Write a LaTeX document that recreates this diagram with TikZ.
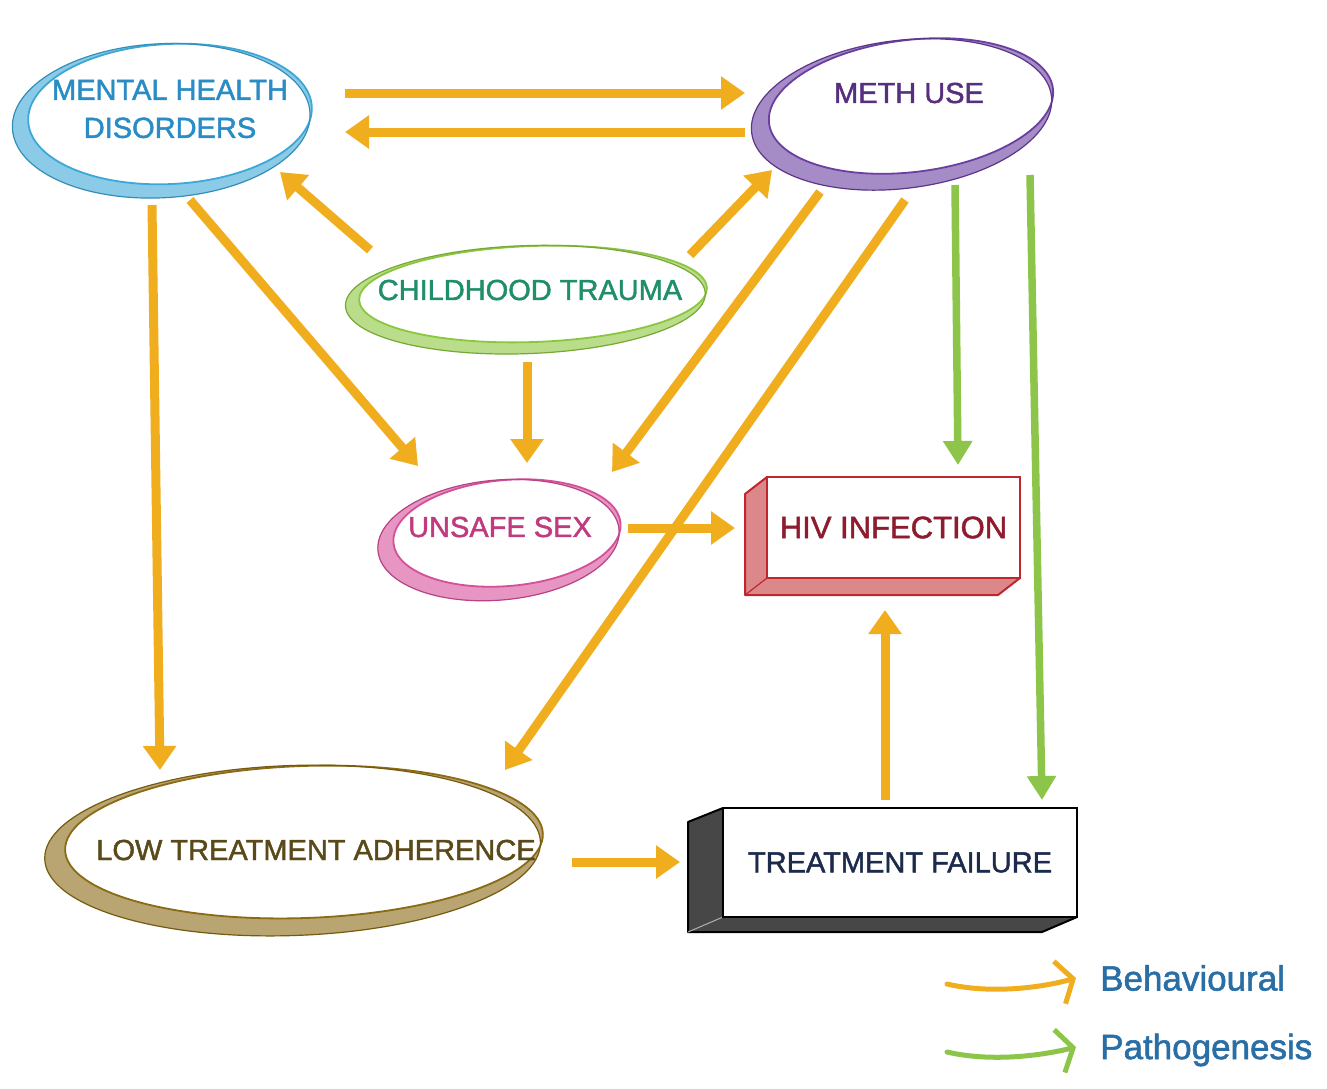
\documentclass[tikz,border=0pt]{standalone}
\usepackage{fontspec}
\setmainfont{Liberation Sans}[RawFeature={embolden=1.6}]
\usetikzlibrary{arrows.meta,calc}
\definecolor{mhline}{HTML}{3DA8D8}
\definecolor{mhtext}{HTML}{2A8CC4}
\definecolor{methline}{HTML}{6B3FA0}
\definecolor{methtext}{HTML}{56307F}
\definecolor{ctline}{HTML}{8CC63F}
\definecolor{cttext}{HTML}{1F8F6A}
\definecolor{usline}{HTML}{D64F9A}
\definecolor{ustext}{HTML}{C03A80}
\definecolor{hivline}{HTML}{C0272D}
\definecolor{hivtext}{HTML}{8E1B2E}
\definecolor{laline}{HTML}{8A6A12}
\definecolor{latext}{HTML}{5A4A1A}
\definecolor{tftext}{HTML}{1C2B4C}
\definecolor{behav}{HTML}{F0AE1E}
\definecolor{patho}{HTML}{8CC54A}
\definecolor{legtext}{HTML}{2A6EA6}
% sketchy ellipse: cx, cy, rx, ry, rotation, colour, crescent width
\newcommand\sketchell[7]{%
  \begin{scope}[shift={(#1,#2)}, rotate=#5]
    \fill[#6!60, even odd rule] (0,0) ellipse [x radius=#3, y radius=#4]
      (-1.3*#7,0.9*#7) ellipse [x radius=#3+#7, y radius=#4+#7];
    \draw[#6, line width=1.8pt] (0,0) ellipse [x radius=#3, y radius=#4];
    \draw[#6!85!black, line width=1.2pt] (-1.3*#7,0.9*#7) ellipse [x radius=#3+#7, y radius=#4+#7];
  \end{scope}}
\tikzset{
  lbl/.style={font=\fontsize{29}{38}\selectfont, align=center, inner sep=0pt},
  boxnode/.style={draw, line width=2.6pt, fill=white, inner sep=0pt},
  barrow/.style={draw=behav, line width=9pt, -{Triangle[width=32pt,length=24pt]}},
  parrow/.style={draw=patho, line width=7.5pt, -{Triangle[width=28pt,length=24pt]}},
  legarrow/.style={line width=5pt, line cap=round, -{Straight Barb[length=14pt,width=44pt,line width=5pt]}},
  legtxt/.style={font=\fontsize{35}{40}\selectfont, text=legtext, anchor=west, inner sep=0pt}
}
\begin{document}
\begin{tikzpicture}[x=1pt, y=-1pt]
\useasboundingbox (0,0) rectangle (1327,1088);
\fill[white] (0,0) rectangle (1327,1088);

% ---- ellipses (drawn shapes) ----
\sketchell{170}{114}{142}{70}{3}{mhline}{7}
\sketchell{911}{106}{143}{66}{7}{methline}{8}
\sketchell{533}{294}{174}{48}{2}{ctline}{6}
\sketchell{507}{533}{114}{53}{5}{usline}{7}
\sketchell{304}{842}{239}{76}{2}{laline}{9}

% ---- text nodes ----
\node[lbl, text=mhtext] (mh) at (170,109) {MENTAL HEALTH\\DISORDERS};
\node[lbl, text=methtext] (meth) at (909,93) {METH USE};
\node[lbl, text=cttext] (ct) at (530,290) {CHILDHOOD TRAUMA};
\node[lbl, text=ustext] (us) at (500,527) {UNSAFE SEX};
\node[lbl, text=latext] (la) at (316,850) {LOW TREATMENT ADHERENCE};

% ---- 3D boxes ----
\fill[hivline!55] (767,477) -- ++(-22,17) -- (745,595) -- (998,595) -- (1020,578) -- (767,578) -- cycle;
\draw[hivline, line width=2pt, line join=round] (767,477) -- ++(-22,17) -- (745,595) -- (998,595) -- (1020,578);
\draw[hivline, line width=1.2pt] (767,578) -- (745,595);
\node[boxnode, draw=hivline, minimum width=253pt, minimum height=101pt,
      font=\fontsize{31}{36}\selectfont, text=hivtext] (hiv) at (893.5,527.5) {HIV INFECTION};

\fill[black!72] (723,808) -- ++(-35,14) -- (688,932) -- (1042,932) -- (1077,917) -- (723,917) -- cycle;
\draw[black, line width=2pt, line join=round] (723,808) -- ++(-35,14) -- (688,932) -- (1042,932) -- (1077,917);
\draw[white!70!black, line width=1pt] (723,917) -- (688,932);
\node[boxnode, draw=black, minimum width=354pt, minimum height=109pt,
      font=\fontsize{29}{36}\selectfont, text=tftext] (tf) at (900,862.5) {TREATMENT FAILURE};

% ---- behavioural connectors ----
\draw[barrow] ([shift={(175,-16)}]mh.center) -- ([shift={(-164,0)}]meth.center);
\draw[barrow] ([shift={(-164,39)}]meth.center) -- ([shift={(175,23)}]mh.center);
\draw[barrow] ([shift={(-160,-40)}]ct.center) -- ([shift={(110,63)}]mh.center);
\draw[barrow] ([shift={(160,-35)}]ct.center) -- ([shift={(-137,77)}]meth.center);
\draw[barrow] ([shift={(-3,72)}]ct.center) -- ([shift={(27,-64)}]us.center);
\draw[barrow] ([shift={(20,91)}]mh.center) -- ([shift={(-82,-61)}]us.center);
\draw[barrow] ([shift={(-89,99)}]meth.center) -- ([shift={(112,-55)}]us.center);
\draw[barrow] ([shift={(-4,107)}]meth.center) -- ([shift={(189,-80)}]la.center);
\draw[barrow] ([shift={(-18,96)}]mh.center) -- ([shift={(-156,-80)}]la.center);
\draw[barrow] ([shift={(128,1)}]us.center) -- ([shift={(-158.5,0.5)}]hiv.center);
\draw[barrow] ([shift={(256,12)}]la.center) -- ([shift={(-220,-0.5)}]tf.center);
\draw[barrow] ([shift={(-15,-62.5)}]tf.center) -- ([shift={(-8.5,82.5)}]hiv.center);

% ---- pathogenesis connectors ----
\draw[parrow] ([shift={(46,92)}]meth.center) -- ([shift={(64.5,-62.5)}]hiv.center);
\draw[parrow] ([shift={(121,82)}]meth.center) -- ([shift={(142,-62.5)}]tf.center);

% ---- legend ----
\coordinate (b1) at (947,984);
\coordinate (b2) at (1076,978);
\coordinate (p1) at (947,1052);
\coordinate (p2) at (1076,1047);
\draw[legarrow, draw=behav] (b1) .. controls (990,994) and (1040,988) .. (b2);
\draw[legarrow, draw=patho] (p1) .. controls (990,1062) and (1040,1056) .. (p2);
\node[legtxt] (lb) at (1100,978) {Behavioural};
\node[legtxt] (lp) at (1100,1050) {Pathogenesis};
\end{tikzpicture}
\end{document}
